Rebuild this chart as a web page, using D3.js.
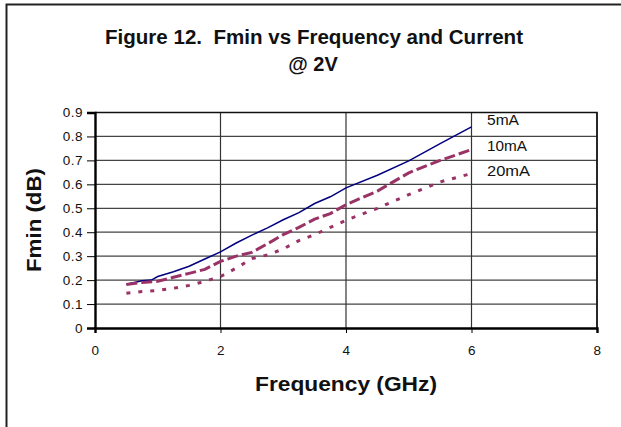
<!DOCTYPE html>
<html>
<head>
<meta charset="utf-8">
<script src="https://cdn.jsdelivr.net/npm/d3@7"></script>
<style>
  html, body { margin: 0; padding: 0; background: #fff; }
  svg { display: block; font-family: "Liberation Sans", Arial, sans-serif; }
</style>
</head>
<body>
<svg id="chart" width="621" height="427"></svg>
<script>
// ---- data ----
const freq5 = [0.5, 0.75, 0.9, 1.0, 1.25, 1.5, 1.75, 2.0, 2.25, 2.5, 2.75, 3.0, 3.25, 3.5, 3.75, 4.0, 4.5, 5.0, 5.5, 6.0];
const fmin5mA = [0.183, 0.197, 0.2, 0.215, 0.235, 0.258, 0.288, 0.318, 0.355, 0.388, 0.418, 0.452, 0.482, 0.52, 0.548, 0.585, 0.638, 0.698, 0.77, 0.84];
const freq10 = [0.5, 0.75, 1.0, 1.25, 1.5, 1.75, 2.0, 2.25, 2.5, 2.75, 3.0, 3.25, 3.5, 3.75, 4.0, 4.5, 5.0, 5.5, 6.0];
const fmin10mA = [0.182, 0.19, 0.195, 0.212, 0.228, 0.245, 0.278, 0.3, 0.316, 0.352, 0.39, 0.42, 0.455, 0.478, 0.515, 0.572, 0.648, 0.7, 0.745];
const freq20 = [0.5, 0.75, 1.0, 1.25, 1.5, 1.75, 2.0, 2.25, 2.5, 2.75, 3.0, 3.25, 3.5, 3.75, 4.0, 4.5, 5.0, 5.5, 6.0];
const fmin20mA = [0.145, 0.152, 0.157, 0.166, 0.178, 0.195, 0.215, 0.25, 0.29, 0.305, 0.33, 0.365, 0.39, 0.42, 0.45, 0.5, 0.557, 0.61, 0.645];
const seriesNames = ["5mA", "10mA", "20mA"];
const xTicks = [0, 2, 4, 6, 8];
const yTicks = [0, 0.1, 0.2, 0.3, 0.4, 0.5, 0.6, 0.7, 0.8, 0.9];
const titleLines = ["Figure 12.  Fmin vs Frequency and Current", "@ 2V"];
const xTitle = "Frequency (GHz)";
const yTitle = "Fmin (dB)";

// ---- layout ----
const svg = d3.select("#chart");
const x = d3.scaleLinear().domain([0, 8]).range([95, 597]);
const y = d3.scaleLinear().domain([0, 0.9]).range([328, 112.5]);

// outer frame (cropped: only left and top visible)
svg.append("path")
  .attr("d", "M6.5,427 L6.5,4.5 L621,4.5")
  .attr("fill", "none").attr("stroke", "#222").attr("stroke-width", 2);

// title
svg.append("text").attr("x", 314).attr("y", 44).attr("text-anchor", "middle")
  .style("white-space", "pre")
  .attr("font-size", 20).attr("font-weight", "bold").attr("fill", "#111")
  .attr("textLength", 418).attr("lengthAdjust", "spacingAndGlyphs").text(titleLines[0]);
svg.append("text").attr("x", 313).attr("y", 71).attr("text-anchor", "middle")
  .attr("font-size", 20).attr("font-weight", "bold").attr("fill", "#111")
  .text(titleLines[1]);

// gridlines
const grid = svg.append("g");
grid.selectAll("line.h").data(yTicks.slice(1)).join("line")
  .attr("x1", x(0)).attr("x2", x(8))
  .attr("y1", d => y(d)).attr("y2", d => y(d))
  .attr("stroke", "#444").attr("stroke-width", 1.2);
grid.selectAll("line.v").data(xTicks.slice(1)).join("line")
  .attr("x1", d => x(d)).attr("x2", d => x(d))
  .attr("y1", y(0)).attr("y2", y(0.9))
  .attr("stroke", "#333").attr("stroke-width", 1.2);
// plot border top/right
svg.append("path")
  .attr("d", `M${x(0)},${y(0.9)} L${x(8)},${y(0.9)} L${x(8)},${y(0)}`)
  .attr("fill", "none").attr("stroke", "#111").attr("stroke-width", 1.6);

// axes
const yAxis = svg.append("g").attr("transform", `translate(${x(0)},0)`)
  .call(d3.axisLeft(y).tickValues(yTicks).tickSize(8).tickPadding(4)
    .tickFormat(d => d === 0 ? "0" : d3.format(".1f")(d)));
const xAxis = svg.append("g").attr("transform", `translate(0,${y(0)})`)
  .call(d3.axisBottom(x).tickValues(xTicks).tickSize(5).tickPadding(12));
[yAxis, xAxis].forEach(g => {
  g.select(".domain").attr("stroke", "#000").attr("stroke-width", 2.4);
  g.selectAll(".tick line").attr("stroke", "#000").attr("stroke-width", 1);
  g.selectAll(".tick text").attr("font-size", 13.5).attr("fill", "#111")
    .attr("font-family", "'Liberation Sans', Arial, sans-serif")
    .attr("letter-spacing", 0.5);
});

// axis titles
svg.append("text").attr("x", 346).attr("y", 391).attr("text-anchor", "middle")
  .attr("font-size", 20).attr("font-weight", "bold").attr("fill", "#111")
  .attr("textLength", 182).attr("lengthAdjust", "spacingAndGlyphs").text(xTitle);
svg.append("text").attr("transform", "translate(41,220) rotate(-90)")
  .attr("text-anchor", "middle")
  .attr("font-size", 20).attr("font-weight", "bold").attr("fill", "#111")
  .attr("textLength", 104).attr("lengthAdjust", "spacingAndGlyphs").text(yTitle);

// series
const line = d3.line().x(d => x(d[0])).y(d => y(d[1]));
const series = [
  { name: seriesNames[0], pts: d3.zip(freq5, fmin5mA), color: "#000080", width: 1.5, dash: null },
  { name: seriesNames[1], pts: d3.zip(freq10, fmin10mA), color: "#993366", width: 3, dash: "11,4" },
  { name: seriesNames[2], pts: d3.zip(freq20, fmin20mA), color: "#993366", width: 3, dash: "4,8" }
];
svg.append("g").selectAll("path").data(series).join("path")
  .attr("d", d => line(d.pts))
  .attr("fill", "none")
  .attr("stroke", d => d.color)
  .attr("stroke-width", d => d.width)
  .attr("stroke-dasharray", d => d.dash);

// legend labels
const legendWidths = [32, 40, 43];
svg.append("g").selectAll("text").data(series).join("text")
  .attr("x", 487).attr("y", (d, i) => 125 + i * 25.5)
  .attr("font-size", 14).attr("fill", "#111")
  .attr("textLength", (d, i) => legendWidths[i]).attr("lengthAdjust", "spacingAndGlyphs")
  .text(d => d.name);
</script>
</body>
</html>
